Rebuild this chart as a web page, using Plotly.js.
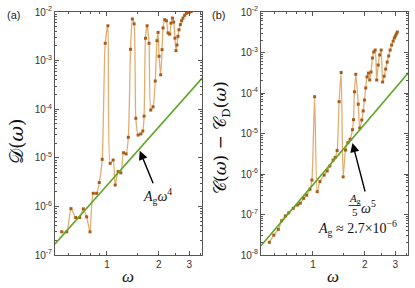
<!DOCTYPE html>
<html><head><meta charset="utf-8">
<script src="https://cdn.plot.ly/plotly-3.0.1.min.js"></script>
<style>html,body{margin:0;padding:0;background:#fff;}#chart{width:415px;height:288px;}</style>
</head><body><div id="chart"></div>
<script>
// Panel (a): D(omega)
const omegaA = [0.547,0.585,0.619,0.659,0.695,0.730,0.763,0.798,0.833,0.872,0.903,0.939,0.978,1.013,1.045,1.087,1.117,1.162,1.205,1.249,1.293,1.331,1.371,1.404,1.438,1.471,1.517,1.573,1.615,1.643,1.674,1.710,1.756,1.796,1.852,1.907,1.951,1.980,2.006,2.051,2.088,2.116,2.164,2.214,2.262,2.313,2.353,2.398,2.439,2.482,2.515,2.549,2.584,2.618,2.667,2.713,2.761,2.824,2.889,2.951,3.019,3.079];
const valA = [3.0e-7,3.0e-7,9.0e-7,5.9e-7,5.9e-7,8.9e-7,6.1e-7,3.0e-7,1.86e-6,1.86e-6,3.1e-6,9.3e-6,2.27e-3,5.2e-3,7.7e-6,9.0e-6,2.75e-6,5.2e-6,4.9e-6,1.27e-5,1.2e-5,2.64e-5,1.71e-3,7.2e-3,5.7e-3,6.5e-5,2.94e-5,3.1e-5,3.56e-5,7.2e-5,2.88e-3,5.2e-3,2.27e-3,9.6e-5,1.12e-4,3.8e-4,2.57e-3,3.8e-3,1.23e-3,5.1e-4,1.68e-3,4.7e-3,6.95e-3,6.6e-3,3.7e-3,3.5e-3,5.9e-3,7.5e-3,6.2e-3,2.9e-3,1.6e-3,2.1e-3,3.16e-3,4.3e-3,5.5e-3,6.6e-3,7.5e-3,8.55e-3,9.4e-3,9.85e-3,1.0e-2,1.02e-2];
// Fit line A_g w^4 (end points)
const fitWA = [0.5, 3.6];
const fitA = [1.69e-7, 4.53e-4];

// Panel (b): C(omega) - C_D(omega)
const omegaB = [0.559,0.593,0.630,0.659,0.692,0.724,0.769,0.816,0.845,0.884,0.920,0.961,0.987,1.023,1.059,1.098,1.162,1.210,1.254,1.310,1.346,1.382,1.419,1.458,1.497,1.545,1.594,1.643,1.696,1.719,1.742,1.773,1.832,1.869,1.920,1.958,1.990,2.025,2.060,2.099,2.135,2.173,2.214,2.252,2.297,2.344,2.391,2.439,2.488,2.538,2.590,2.642,2.696,2.750,2.805,2.862,2.919,2.967,3.006,3.046,3.087];
const valB = [2.06e-8,3.1e-8,4.3e-8,7.0e-8,9.2e-8,1.1e-7,1.42e-7,1.72e-7,1.9e-7,2.5e-7,3.0e-7,4.2e-7,7.1e-7,8.1e-5,3.66e-7,6.5e-7,9.4e-7,1.19e-6,1.58e-6,2.2e-6,2.55e-6,3.8e-6,6.1e-5,3.2e-4,8.5e-7,3.9e-6,5.9e-6,7.2e-6,1.24e-5,2.2e-5,1.07e-4,2.9e-4,5.3e-5,1.37e-5,2.15e-5,3.6e-5,6.7e-5,1.33e-4,2.5e-4,3.1e-4,2.1e-4,3.3e-4,7.3e-4,1.03e-3,1.15e-3,2.1e-4,4.9e-4,8.7e-4,1.15e-3,1.87e-4,2.6e-4,3.9e-4,5.8e-4,8.2e-4,1.15e-3,1.53e-3,1.92e-3,2.28e-3,2.55e-3,2.86e-3,3.2e-3];
// Fit line (A_g/5) w^5 (end points)
const fitWB = [0.5, 3.6];
const fitB = [1.69e-8, 3.27e-4];

const xTickVals = [1, 2, 3];
const xTickText = ['1', '2', '3'];
const yTickValsA = [1e-7,1e-6,1e-5,1e-4,1e-3,1e-2];
const yTickTextA = ['10<sup>-7</sup>','10<sup>-6</sup>','10<sup>-5</sup>','10<sup>-4</sup>','10<sup>-3</sup>','10<sup>-2</sup>'];
const yTickValsB = [1e-8,1e-7,1e-6,1e-5,1e-4,1e-3,1e-2];
const yTickTextB = ['10<sup>-8</sup>','10<sup>-7</sup>','10<sup>-6</sup>','10<sup>-5</sup>','10<sup>-4</sup>','10<sup>-3</sup>','10<sup>-2</sup>'];

const W = 415, H = 288;
const px = v => v / W, py = v => 1 - v / H;

const lineCol = '#e3ad72', mkCol = '#a95c17', greenCol = '#5ea626';
function dataTrace(x, y, xa, ya) {
  return {x, y, xaxis: xa, yaxis: ya, type: 'scatter', mode: 'lines+markers',
    line: {color: lineCol, width: 1.3, shape: 'spline', smoothing: 0.6},
    marker: {color: mkCol, size: 3, symbol: 'square'}, showlegend: false, hoverinfo: 'skip'};
}
function fitTrace(x, y, xa, ya) {
  return {x, y, xaxis: xa, yaxis: ya, type: 'scatter', mode: 'lines',
    line: {color: greenCol, width: 1.6}, showlegend: false, hoverinfo: 'skip'};
}

function minorVals(lo, hi) {
  const out = [];
  for (let e = lo; e < hi; e++) for (let k = 2; k <= 9; k++) out.push(k * Math.pow(10, e));
  return out;
}

const tickFont = {family: 'Liberation Sans, Arial, sans-serif', size: 10, color: '#333'};
const axBase = {
  type: 'log', showline: true, linecolor: '#555', linewidth: 1, mirror: 'ticks',
  ticks: 'inside', ticklen: 4, tickcolor: '#555', showgrid: false, zeroline: false,
  tickfont: tickFont, automargin: false
};
const xr = [Math.log10(0.5), Math.log10(3.56)];
const serif = 'Liberation Serif, serif';
function txt(x, y, text, size, extra) {
  return Object.assign({xref: 'paper', yref: 'paper', x: px(x), y: py(y), text, showarrow: false,
    xanchor: 'center', yanchor: 'middle', font: {family: serif, size, color: '#111'}}, extra || {});
}

const layout = {
  width: W, height: H, margin: {l: 0, r: 0, t: 0, b: 0},
  paper_bgcolor: '#fff', plot_bgcolor: '#fff',
  xaxis: Object.assign({}, axBase, {domain: [px(55), px(202)], range: xr, anchor: 'y',
    tickmode: 'array', tickvals: xTickVals, ticktext: xTickText,
    minor: {ticks: 'inside', ticklen: 2, tickcolor: '#555', tickmode: 'array', tickvals: [0.5,0.6,0.7,0.8,0.9,1.5,2.5,3.5]}}),
  yaxis: Object.assign({}, axBase, {domain: [py(255), py(12)], range: [-7, -2], anchor: 'x',
    tickmode: 'array', tickvals: yTickValsA, ticktext: yTickTextA,
    minor: {ticks: 'inside', ticklen: 2, tickcolor: '#555', tickmode: 'array', tickvals: minorVals(-7, -2)}}),
  xaxis2: Object.assign({}, axBase, {domain: [px(261), px(408)], range: xr, anchor: 'y2',
    tickmode: 'array', tickvals: xTickVals, ticktext: xTickText,
    minor: {ticks: 'inside', ticklen: 2, tickcolor: '#555', tickmode: 'array', tickvals: [0.5,0.6,0.7,0.8,0.9,1.5,2.5,3.5]}}),
  yaxis2: Object.assign({}, axBase, {domain: [py(255), py(12)], range: [-8, -2], anchor: 'x2',
    tickmode: 'array', tickvals: yTickValsB, ticktext: yTickTextB,
    minor: {ticks: 'inside', ticklen: 2, tickcolor: '#555', tickmode: 'array', tickvals: minorVals(-8, -2)}}),
  shapes: [
    {type: 'line', xref: 'paper', yref: 'paper', x0: px(348.5), x1: px(360.5), y0: py(205.5), y1: py(205.5), line: {color: '#111', width: 0.8}}
  ],
  annotations: [
    txt(13, 15, '(a)', 11, {font: {family: 'Liberation Sans, Arial', size: 11, color: '#222'}}),
    txt(218, 15, '(b)', 11, {font: {family: 'Liberation Sans, Arial', size: 11, color: '#222'}}),
    txt(16, 142, '𝒟(<i>ω</i>)', 19, {textangle: -90, font: {family: 'DejaVu Serif, Liberation Serif, serif', size: 19, color: '#111'}}),
    txt(221, 138, '𝒞(<i>ω</i>) − 𝒞<sub>D</sub>(<i>ω</i>)', 17, {textangle: -90, font: {family: 'DejaVu Serif, Liberation Serif, serif', size: 17, color: '#111'}}),
    txt(128, 276, '<i>ω</i>', 17),
    txt(333, 276, '<i>ω</i>', 17),
    // arrow panel a
    {xref: 'x', yref: 'y', x: Math.log10(1.55), y: Math.log10(1.4e-5), ax: 14, ay: 34, text: '', showarrow: true, arrowhead: 2, arrowsize: 1.3, arrowwidth: 1.4, arrowcolor: '#000'},
    txt(157, 196, '<i>A</i><sub>g</sub><i>ω</i><sup>4</sup>', 14),
    // arrow panel b
    {xref: 'x2', yref: 'y2', x: Math.log10(1.696), y: -5.235, ax: 13, ay: 50, text: '', showarrow: true, arrowhead: 2, arrowsize: 1.3, arrowwidth: 1.4, arrowcolor: '#000'},
    txt(354.5, 199, '<i>A</i><sub>g</sub>', 11),
    txt(354.5, 212, '5', 11),
    txt(368, 207, '<i>ω</i><sup>5</sup>', 14),
    txt(357, 228, '<i>A</i><sub>g</sub> ≈ 2.7×10<sup>−6</sup>', 14)
  ]
};

const data = [
  dataTrace(omegaA, valA, 'x', 'y'),
  fitTrace(fitWA, fitA, 'x', 'y'),
  dataTrace(omegaB, valB, 'x2', 'y2'),
  fitTrace(fitWB, fitB, 'x2', 'y2')
];
Plotly.newPlot('chart', data, layout, {staticPlot: true, displayModeBar: false});
</script></body></html>
